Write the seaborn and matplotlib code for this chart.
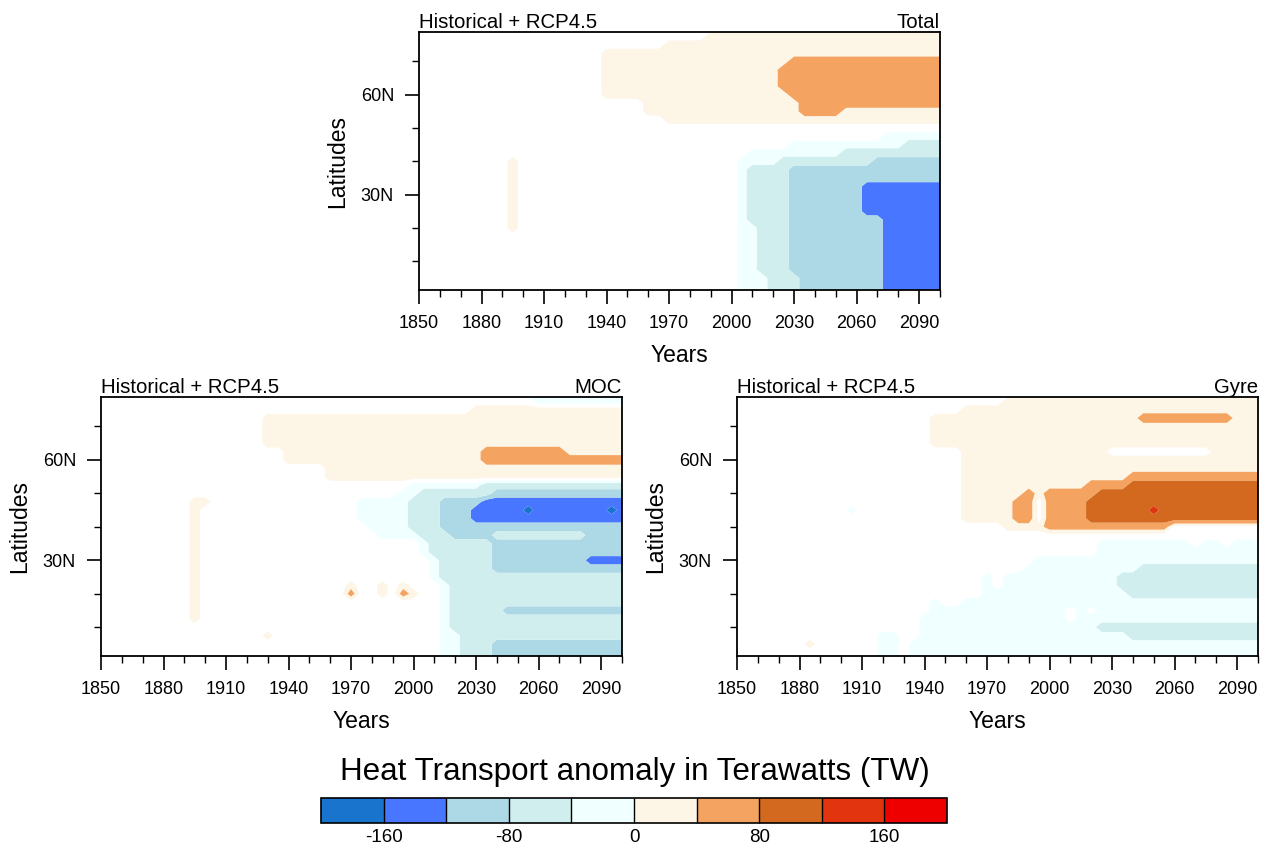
import numpy as np
import matplotlib
matplotlib.use("Agg")
import matplotlib.pyplot as plt
import matplotlib as mpl
from matplotlib.colors import ListedColormap, BoundaryNorm
from matplotlib.ticker import MultipleLocator, FixedLocator, NullLocator
import seaborn as sns

# ---------------------------------------------------------------- data
# grid on which the anomaly classes were read off the picture
YEARS = np.arange(1850, 2101, 5)            # 51 columns (1850 ... 2100)
LATITUDES = np.arange(80.0, -0.1, -2.5)     # 33 rows (80N ... 0)

# class codes -> representative anomaly (TW); '.' = blank (not shaded)
CLASS_VALUES = {'.': 0.0, 'a': -25.0, 't': -60.0, 'l': -100.0, 'b': -140.0,
                'd': -180.0, 'o': 25.0, 's': 60.0, 'c': 100.0, 'r': 140.0,
                'R': 180.0}

# columns grouped: 1850-95 | 1900-45 | 1950-95 | 2000-45 | 2050-95 | 2100
TOTAL_ROWS = [
    ".......... .......... .......... oooooooooo oooooooooo o",  # 80
    ".......... .......... ........oo oooooooooo oooooooooo o",  # 77.5
    ".......... .......... ....oooooo oooooooooo oooooooooo o",  # 75
    ".......... ........oo oooooooooo oooooooooo oooooooooo o",  # 72.5
    ".......... ........oo oooooooooo oooooossss ssssssssss s",  # 70
    ".......... ........oo oooooooooo ooooosssss ssssssssss s",  # 67.5
    ".......... ........oo oooooooooo ooooosssss ssssssssss s",  # 65
    ".......... ........oo oooooooooo ooooosssss ssssssssss s",  # 62.5
    ".......... ........oo oooooooooo oooooossss ssssssssss s",  # 60
    ".......... .......... ..oooooooo ooooooosss ssssssssss s",  # 57.5
    ".......... .......... ..oooooooo ooooooosss sooooooooo o",  # 55
    ".......... .......... ....oooooo oooooooooo oooooooooo o",  # 52.5
    ".......... .......... .......... .......... .......... .",  # 50
    ".......... .......... .......... .......... .....aaaaa a",  # 47.5
    ".......... .......... .......... ......aaaa aaaaaaattt t",  # 45
    ".......... .......... .......... ..aaaaaaaa attttttttt t",  # 42.5
    ".........o .......... .......... .aaaattttt ttttllllll l",  # 40
    ".........o .......... .......... .attttllll llllllllll l",  # 37.5
    ".........o .......... .......... .attttllll llllllllll l",  # 35
    ".........o .......... .......... .attttllll lllbbbbbbb b",  # 32.5
    ".........o .......... .......... .attttllll lllbbbbbbb b",  # 30
    ".........o .......... .......... .attttllll lllbbbbbbb b",  # 27.5
    ".........o .......... .......... .attttllll lllbbbbbbb b",  # 25
    ".........o .......... .......... .attttllll lllllbbbbb b",  # 22.5
    ".........o .......... .......... .aatttllll lllllbbbbb b",  # 20
    ".......... .......... .......... .aatttllll lllllbbbbb b",  # 17.5
    ".......... .......... .......... .aatttllll lllllbbbbb b",  # 15
    ".......... .......... .......... .aatttllll lllllbbbbb b",  # 12.5
    ".......... .......... .......... .aatttllll lllllbbbbb b",  # 10
    ".......... .......... .......... .aatttllll lllllbbbbb b",  # 7.5
    ".......... .......... .......... .aaatttlll lllllbbbbb b",  # 5
    ".......... .......... .......... .aaatttlll lllllbbbbb b",  # 2.5
    ".......... .......... .......... .aaatttlll lllllbbbbb b",  # 0
]

MOC_ROWS = [
    ".......... .......... ........aa aaaaaaaaaa aaaaaaaaaa a",  # 80
    ".......... .......... .......... .......... ..aaaaaaaa a",  # 77.5
    ".......... .......... .......... ......oooo oooooooooo o",  # 75
    ".......... ......oooo oooooooooo oooooooooo oooooooooo o",  # 72.5
    ".......... ......oooo oooooooooo oooooooooo oooooooooo o",  # 70
    ".......... ......oooo oooooooooo oooooooooo oooooooooo o",  # 67.5
    ".......... ......oooo oooooooooo oooooooooo oooooooooo o",  # 65
    ".......... ........oo oooooooooo ooooooosss sssssooooo o",  # 62.5
    ".......... ........oo oooooooooo ooooooosss ssssssssss s",  # 60
    ".......... .......... ..oooooooo oooooooooo oooooooooo o",  # 57.5
    ".......... .......... ..oooooooo oooooooooo oooooooooo o",  # 55
    ".......... .......... .......... aaaaaaattt tttttttttt t",  # 52.5
    ".......... .......... .........a atttttttll llllllllll l",  # 50
    ".........o o......... .....aaaaa tttllllbbb bbbbbbbbbb b",  # 47.5
    ".........o .......... .....aaaaa tttlllbbbb bdbbbbbbbd b",  # 45
    ".........o .......... .....aaaaa tttlllbbbb bbbbbbbbbb b",  # 42.5
    ".........o .......... ......aaaa tttlllllll llllllllll l",  # 40
    ".........o .......... .......aaa atttlllltt tttttttlll l",  # 37.5
    ".........o .......... .......... .attttttll llllllllll l",  # 35
    ".........o .......... .......... .attttttll llllllllll l",  # 32.5
    ".........o .......... .......... ..atttttll lllllllbbb b",  # 30
    ".........o .......... .......... ..atttttll llllllllll l",  # 27.5
    ".........o .......... .......... ..attttttt tttttttttt t",  # 25
    ".........o .......... ....o..o.o ...atttttt tttttttttt t",  # 22.5
    ".........o .......... ....s..o.s o..atttttt tttttttttt t",  # 20
    ".........o .......... .......... ...atttttt tttttttttt t",  # 17.5
    ".........o .......... .......... ...atttttl llllllllll l",  # 15
    ".........o .......... .......... ...atttttt tttttttttt t",  # 12.5
    ".......... .......... .......... ...atttttt tttttttttt t",  # 10
    ".......... ......o... .......... ...aattttt tttttttttt t",  # 7.5
    ".......... .......... .......... ...aatttll llllllllll l",  # 5
    ".......... .......... .......... ...aatttll llllllllll l",  # 2.5
    ".......... .......... .......... ...aatttll llllllllll l",  # 0
]

GYRE_ROWS = [
    ".......... .......... .......ooo oooooooooo oooooooooo o",  # 80
    ".......... .......... ......oooo oooooooooo oooooooooo o",  # 77.5
    ".......... .......... ..oooooooo oooooooooo oooooooooo o",  # 75
    ".......... .........o oooooooooo ooooooooos ssssssssoo o",  # 72.5
    ".......... .........o oooooooooo oooooooooo oooooooooo o",  # 70
    ".......... .........o oooooooooo oooooooooo oooooooooo o",  # 67.5
    ".......... .........o oooooooooo oooooooooo oooooooooo o",  # 65
    ".......... .......... ..oooooooo oooooo.... ......oooo o",  # 62.5
    ".......... .......... ..oooooooo oooooooooo oooooooooo o",  # 60
    ".......... .......... ..oooooooo oooooooooo oooooooooo o",  # 57.5
    ".......... .......... ..oooooooo ooooooooss ssssssssss s",  # 55
    ".......... .......... ..oooooooo oooosssscc cccccccccc c",  # 52.5
    ".......... .......... ..ooooooso sssssccccc cccccccccc c",  # 50
    ".......... .......... ..oooooss. sssscccccc cccccccccc c",  # 47.5
    ".......... .a........ ..oooooss. sssscccccc rccccccccc c",  # 45
    ".......... .......... ..oooooss. sssscccccc cccccccccc c",  # 42.5
    ".......... .......... ......oooo ssssssssss ss........ .",  # 40
    ".......... .......... .......... .......... .......... .",  # 37.5
    ".......... .......... .......... .....aaaaa aaaa.aa.aa a",  # 35
    ".......... .......... .......... .....aaaaa aaaaaaaaaa a",  # 32.5
    ".......... .......... .........a aaaaaaaaaa aaaaaaaaaa a",  # 30
    ".......... .......... ........aa aaaaaaaaat tttttttttt t",  # 27.5
    ".......... .......... ....a.aaaa aaaaaaattt tttttttttt t",  # 25
    ".......... .......... ....a.aaaa aaaaaaattt tttttttttt t",  # 22.5
    ".......... .......... ....aaaaaa aaaaaaaatt tttttttttt t",  # 20
    ".......... .........a ..aaaaaaaa aaaaaaaaaa aaaaaaaaaa a",  # 17.5
    ".......... .........a aaaaaaaaaa aa.a.aaaaa aaaaaaaaaa a",  # 15
    ".......... ........aa aaaaaaaaaa aa.aaaaaaa aaaaaaaaaa a",  # 12.5
    ".......... ........aa aaaaaaaaaa aaaaattttt tttttttttt t",  # 10
    ".......... ....aa..aa aaaaaaaaaa aaaaaaaatt tttttttttt t",  # 7.5
    ".......o.. ....aa.aaa aaaaaaaaaa aaaaaaaaaa aaaaaaaaaa a",  # 5
    ".......... ....aa.aaa aaaaaaaaaa aaaaaaaaaa aaaaaaaaaa a",  # 2.5
    ".......... ....aa.aaa aaaaaaaaaa aaaaaaaaaa aaaaaaaaaa a",  # 0
]

PANEL_NAMES = ["Total", "MOC", "Gyre"]
LEFT_TITLE = "Historical + RCP4.5"
LEVELS = [-160, -120, -80, -40, 0, 40, 80, 120, 160]
COLORBAR_BOUNDS = [-200, -160, -120, -80, -40, 0, 40, 80, 120, 160, 200]
COLORBAR_TICKS = [-160, -80, 0, 80, 160]
XTICKS = [1850, 1880, 1910, 1940, 1970, 2000, 2030, 2060, 2090]
YTICKS = [30, 60]
YTICK_LABELS = ["30N", "60N"]
XLIM = (1850, 2100)
YLIM = (1.4, 78.8)

COLORS = ["#1874CD", "#4876FF", "#ADD8E6", "#D1EEEE", "#F0FFFF",
          "#FDF5E6", "#F4A460", "#D2691E", "#E2340F", "#EE0000"]


def decode(rows):
    grid = []
    for r in rows:
        s = r.replace(" ", "")
        assert len(s) == len(YEARS), (r, len(s))
        grid.append([CLASS_VALUES[ch] for ch in s])
    arr = np.array(grid)
    assert arr.shape == (len(LATITUDES), len(YEARS))
    return arr


FIELDS = {"Total": decode(TOTAL_ROWS), "MOC": decode(MOC_ROWS),
          "Gyre": decode(GYRE_ROWS)}

# ---------------------------------------------------------------- style
sns.set_theme(style="ticks")
plt.rcParams["font.family"] = ["Liberation Sans", "DejaVu Sans"]
plt.rcParams["axes.linewidth"] = 1.3

palette = sns.color_palette(COLORS)
# drawing levels: blank (unshaded) band around zero between the -40..0 and 0..40 classes
draw_levels = [-1e4] + LEVELS[:4] + [-12.5, 12.5] + LEVELS[5:] + [1e4]
draw_colors = list(palette[:5]) + [(1, 1, 1)] + list(palette[5:])

W, H = 1268, 848
fig = plt.figure(figsize=(W / 100, H / 100), dpi=100)


def ax_rect(left, top, right, bottom):
    return [left / W, 1 - bottom / H, (right - left) / W, (bottom - top) / H]


rects = {"Total": ax_rect(419, 32, 940, 290),
         "MOC": ax_rect(101, 397, 622, 656),
         "Gyre": ax_rect(737, 397, 1258, 656)}

lat_up = LATITUDES[::-1]
for name in PANEL_NAMES:
    ax = fig.add_axes(rects[name])
    Z = FIELDS[name][::-1]
    ax.contourf(YEARS, lat_up, Z, levels=draw_levels, colors=draw_colors,
                antialiased=True)
    ax.set_xlim(*XLIM)
    ax.set_ylim(*YLIM)
    ax.xaxis.set_major_locator(FixedLocator(XTICKS))
    ax.xaxis.set_minor_locator(MultipleLocator(10))
    ax.yaxis.set_major_locator(FixedLocator(YTICKS))
    ax.set_yticklabels(YTICK_LABELS)
    ax.yaxis.set_minor_locator(FixedLocator([10, 20, 40, 50, 70]))
    ax.tick_params(which="major", direction="out", length=10, width=1.2,
                   labelsize=13, pad=8, top=False, right=False, colors="black")
    ax.tick_params(which="minor", direction="out", length=5, width=1.0,
                   top=False, right=False, colors="black")
    for sp in ax.spines.values():
        sp.set_color("black")
        sp.set_linewidth(1.3)
    ax.set_xlabel("Years", fontsize=16.5, labelpad=9, color="black")
    ax.set_ylabel("Latitudes", fontsize=16.5, labelpad=8, color="black")
    ax.set_title(LEFT_TITLE, loc="left", fontsize=14.7, pad=2, color="black")
    ax.set_title(name, loc="right", fontsize=14.7, pad=2, color="black")

# ---------------------------------------------------------------- colorbar
cax = fig.add_axes(ax_rect(321, 798, 947, 823))
cmap = ListedColormap(list(palette))
norm = BoundaryNorm(COLORBAR_BOUNDS, cmap.N)
cb = mpl.colorbar.ColorbarBase(cax, cmap=cmap, norm=norm,
                               orientation="horizontal", drawedges=True,
                               ticks=COLORBAR_TICKS)
cb.outline.set_linewidth(1.2)
cb.outline.set_edgecolor("black")
cb.dividers.set_color("black")
cb.dividers.set_linewidth(1.0)
cax.xaxis.set_minor_locator(NullLocator())
cax.tick_params(which="both", length=0, labelsize=13.5, pad=4, colors="black")
cax.set_xticklabels([str(t) for t in COLORBAR_TICKS])
fig.text(634.5 / W, 1 - 772 / H, "Heat Transport anomaly in Terawatts (TW)",
         ha="center", va="center", fontsize=22.6, color="black")

fig.savefig("out.png", dpi=100, facecolor="white")
